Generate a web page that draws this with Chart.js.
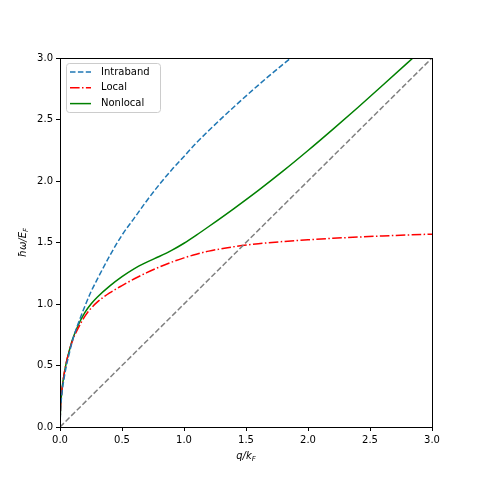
<!DOCTYPE html>
<html>
<head>
<meta charset="utf-8">
<script src="https://cdn.jsdelivr.net/npm/chart.js@4"></script>
<style>
  body { margin: 0; background: #fff; }
  #wrap { width: 480px; height: 480px; }
</style>
</head>
<body>
<div id="wrap"><canvas id="chart" width="480" height="480"></canvas></div>
<script>
// values
const qGrid = [0, 0.005, 0.01, 0.02, 0.03, 0.05, 0.075, 0.1, 0.15, 0.2, 0.25, 0.3, 0.4, 0.5, 0.6, 0.7,
               0.8, 0.9, 1.0, 1.1, 1.2, 1.4, 1.6, 1.8, 2.0, 2.2, 2.4, 2.6, 2.8, 3.0];
const intraband = [0, 0.16, 0.22, 0.31, 0.38, 0.49, 0.60, 0.70, 0.85, 0.98, 1.10, 1.20, 1.39, 1.56, 1.70, 1.84,
                   1.97, 2.09, 2.20, 2.31, 2.41, 2.60, 2.78, 2.95, 3.11, null, null, null, null, null];
const local = [0, 0.17, 0.24, 0.34, 0.41, 0.52, 0.62, 0.70, 0.81, 0.90, 0.965, 1.015, 1.09, 1.15, 1.205, 1.255,
               1.30, 1.34, 1.375, 1.405, 1.43, 1.465, 1.49, 1.508, 1.522, 1.534, 1.544, 1.553, 1.561, 1.568];
const nonlocal = [0, 0.17, 0.24, 0.34, 0.41, 0.52, 0.62, 0.71, 0.835, 0.93, 1.0, 1.055, 1.145, 1.222, 1.288, 1.34,
                  1.386, 1.436, 1.494, 1.56, 1.63, 1.774, 1.924, 2.082, 2.248, 2.42, 2.596, 2.776, 2.958, 3.142];
const diagQ = [0, 3];
const diagW = [0, 3];
const tickValues = [0, 0.5, 1.0, 1.5, 2.0, 2.5, 3.0];

const FONT = 'DejaVu Sans';

function toPoints(xs, ys) {
  return xs.map((x, i) => ({ x: x, y: ys[i] }));
}

const legendItems = [
  { label: 'Intraband', color: '#1f77b4', dash: [5.5, 2.4] },
  { label: 'Local', color: '#ff0000', dash: [9.6, 2.4, 1.5, 2.4] },
  { label: 'Nonlocal', color: '#008000', dash: [] }
];

const framePlugin = {
  id: 'frame',
  afterDraw(chart) {
    const ctx = chart.ctx;
    const a = chart.chartArea;
    ctx.save();
    // box around the axes
    ctx.strokeStyle = '#000';
    ctx.lineWidth = 1;
    ctx.setLineDash([]);
    ctx.strokeRect(Math.round(a.left) + 0.5, Math.round(a.top) + 0.5,
                   Math.round(a.right - a.left), Math.round(a.bottom - a.top));

    // legend
    const lx = a.left + 6, ly = a.top + 5, lw = 94, lh = 49;
    ctx.fillStyle = 'rgba(255,255,255,0.8)';
    ctx.strokeStyle = '#cccccc';
    ctx.beginPath();
    ctx.roundRect(lx + 0.5, ly + 0.5, lw, lh, 3);
    ctx.fill();
    ctx.stroke();
    ctx.font = '10px "' + FONT + '"';
    ctx.textBaseline = 'middle';
    legendItems.forEach((it, i) => {
      const y = ly + 9 + i * 15.8;
      ctx.strokeStyle = it.color;
      ctx.lineWidth = 1.5;
      ctx.setLineDash(it.dash);
      ctx.beginPath();
      ctx.moveTo(lx + 4, y);
      ctx.lineTo(lx + 25, y);
      ctx.stroke();
      ctx.fillStyle = '#000';
      ctx.fillText(it.label, lx + 35, y);
    });
    ctx.setLineDash([]);

    // axis labels with subscripts
    ctx.fillStyle = '#000';
    ctx.textBaseline = 'alphabetic';
    const main = 'italic 10px "' + FONT + '"';
    const sub = 'italic 7px "' + FONT + '"';
    // x label: q/k_F
    ctx.font = main;
    const xa = 'q/k';
    const w1 = ctx.measureText(xa).width;
    ctx.font = sub;
    const w2 = ctx.measureText('F').width;
    let x0 = (a.left + a.right) / 2 - (w1 + w2) / 2;
    ctx.font = main;
    ctx.fillText(xa, x0, 459);
    ctx.font = sub;
    ctx.fillText('F', x0 + w1, 461);
    // y label: ħω/E_F
    ctx.translate(26, (a.top + a.bottom) / 2);
    ctx.rotate(-Math.PI / 2);
    ctx.font = main;
    const ya = 'ħω/E';
    const v1 = ctx.measureText(ya).width;
    ctx.font = sub;
    const v2 = ctx.measureText('F').width;
    x0 = -(v1 + v2) / 2;
    ctx.font = main;
    ctx.fillText(ya, x0, 0);
    ctx.font = sub;
    ctx.fillText('F', x0 + v1, 2);
    ctx.restore();
  }
};

const axisCommon = {
  type: 'linear',
  min: 0,
  max: 3,
  grid: { display: true, drawOnChartArea: false, drawTicks: true, tickLength: 4, color: '#000', lineWidth: 1 },
  border: { display: false },
  ticks: {
    stepSize: 0.5,
    padding: 3,
    color: '#000',
    font: { family: FONT, size: 10 },
    callback: v => v.toFixed(1)
  },
  afterBuildTicks: scale => { scale.ticks = tickValues.map(v => ({ value: v })); }
};

new Chart(document.getElementById('chart'), {
  type: 'scatter',
  data: {
    datasets: [
      { label: 'diag', data: toPoints(diagQ, diagW), borderColor: '#808080', borderDash: [5.5, 2.4], borderWidth: 1.5 },
      { label: 'Intraband', data: toPoints(qGrid, intraband), borderColor: '#1f77b4', borderDash: [5.5, 2.4], borderWidth: 1.5 },
      { label: 'Local', data: toPoints(qGrid, local), borderColor: '#ff0000', borderDash: [9.6, 2.4, 1.5, 2.4], borderWidth: 1.5 },
      { label: 'Nonlocal', data: toPoints(qGrid, nonlocal), borderColor: '#008000', borderWidth: 1.5 }
    ].map(d => Object.assign(d, {
      showLine: true,
      pointRadius: 0,
      cubicInterpolationMode: 'monotone',
      fill: false,
      clip: 0
    }))
  },
  options: {
    responsive: false,
    animation: false,
    layout: { padding: { left: 0, top: 58, right: 48, bottom: 0 } },
    plugins: { legend: { display: false }, tooltip: { enabled: false } },
    scales: {
      x: Object.assign({}, axisCommon, {
        afterFit: s => { s.height = 53; }
      }),
      y: Object.assign({}, axisCommon, {
        afterFit: s => { s.width = 60; }
      })
    }
  },
  plugins: [framePlugin]
});
</script>
</body>
</html>
